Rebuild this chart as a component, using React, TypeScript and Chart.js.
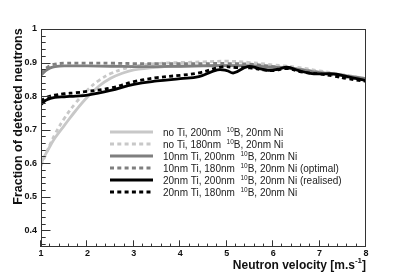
import { useEffect, useRef } from "react";
import { Chart, registerables } from "chart.js";

Chart.register(...registerables);

const FONT = "'Liberation Sans', Arial, Helvetica, sans-serif";

const seriesLabels = [
  "no Ti, 200nm  ¹⁰B, 20nm Ni",
  "no Ti, 180nm  ¹⁰B, 20nm Ni",
  "10nm Ti, 200nm  ¹⁰B, 20nm Ni",
  "10nm Ti, 180nm  ¹⁰B, 20nm Ni (optimal)",
  "20nm Ti, 200nm  ¹⁰B, 20nm Ni (realised)",
  "20nm Ti, 180nm  ¹⁰B, 20nm Ni",
];

const xNoTi = [1, 1.1, 1.2, 1.3, 1.5, 1.75, 2, 2.25, 2.5, 2.75, 3, 3.5, 4, 4.5, 5, 5.5, 6, 6.5, 7, 7.5, 8];
const yNoTi200 = [0.6, 0.627, 0.652, 0.675, 0.712, 0.757, 0.797, 0.83, 0.853, 0.868, 0.878, 0.886, 0.889, 0.891, 0.892, 0.892, 0.888, 0.882, 0.872, 0.862, 0.852];
const yNoTi180 = [0.592, 0.625, 0.657, 0.686, 0.733, 0.78, 0.818, 0.847, 0.867, 0.88, 0.889, 0.897, 0.9, 0.902, 0.904, 0.9, 0.893, 0.886, 0.875, 0.864, 0.852];

const xTi10 = [1, 1.1, 1.2, 1.3, 1.5, 2, 2.5, 3, 3.5, 4, 4.5, 5, 5.5, 6, 6.5, 7, 7.5, 8];
const yTi10_200 = [0.862, 0.876, 0.884, 0.888, 0.89, 0.89, 0.889, 0.888, 0.888, 0.889, 0.89, 0.891, 0.89, 0.886, 0.88, 0.87, 0.862, 0.852];
const yTi10_180 = [0.868, 0.882, 0.891, 0.895, 0.898, 0.898, 0.898, 0.897, 0.897, 0.897, 0.897, 0.897, 0.895, 0.888, 0.88, 0.87, 0.858, 0.848];

const xTi20_200 = [1, 1.1, 1.2, 1.3, 1.5, 1.75, 2, 2.5, 3, 3.5, 4, 4.4, 4.8, 5.0, 5.15, 5.45, 5.7, 5.9, 6.1, 6.3, 6.55, 6.8, 7.0, 7.3, 7.6, 8];
const yTi20_200 = [0.775, 0.787, 0.793, 0.796, 0.798, 0.8, 0.803, 0.817, 0.835, 0.845, 0.852, 0.858, 0.878, 0.876, 0.869, 0.888, 0.882, 0.877, 0.88, 0.886, 0.876, 0.868, 0.866, 0.866, 0.858, 0.846];

const xTi20_180 = [1, 1.1, 1.2, 1.3, 1.5, 1.75, 2, 2.5, 3, 3.5, 4, 4.4, 4.9, 5.2, 5.5, 5.8, 6.0, 6.3, 6.6, 7.0, 7.3, 7.6, 8];
const yTi20_180 = [0.785, 0.795, 0.8, 0.803, 0.807, 0.81, 0.814, 0.824, 0.843, 0.855, 0.862, 0.869, 0.887, 0.885, 0.884, 0.878, 0.876, 0.882, 0.872, 0.866, 0.86, 0.852, 0.844];

const seriesX = [xNoTi, xNoTi, xTi10, xTi10, xTi20_200, xTi20_180];
const seriesY = [yNoTi200, yNoTi180, yTi10_200, yTi10_180, yTi20_200, yTi20_180];
const seriesColors = ["#c8c8c8", "#c8c8c8", "#7f7f7f", "#7f7f7f", "#000000", "#000000"];
const seriesDashed = [false, true, false, true, false, true];

const xMin = 1;
const xMax = 8;
const yMin = 0.35;
const yMax = 1;

const xTitle = "Neutron velocity [m.s";
const xTitleSup = "-1";
const yTitle = "Fraction of detected neutrons";

const DASH = [4, 3.3];

function drawSupText(ctx: CanvasRenderingContext2D, text: string, x: number, y: number, size: number) {
  const parts = text.split("¹⁰");
  ctx.textAlign = "left";
  ctx.textBaseline = "alphabetic";
  ctx.font = `${size}px ${FONT}`;
  ctx.fillText(parts[0], x, y);
  let cx = x + ctx.measureText(parts[0]).width;
  if (parts.length > 1) {
    ctx.font = `${size * 0.65}px ${FONT}`;
    ctx.fillText("10", cx, y - size * 0.4);
    cx += ctx.measureText("10").width;
    ctx.font = `${size}px ${FONT}`;
    ctx.fillText(parts[1], cx, y);
  }
}

const framePlugin = {
  id: "rootFrame",
  afterDraw(chart: any) {
    const ctx: CanvasRenderingContext2D = chart.ctx;
    const { left, right, top, bottom } = chart.chartArea;
    const xs = chart.scales.x;
    const ys = chart.scales.y;
    ctx.save();
    ctx.strokeStyle = "#333";
    ctx.lineWidth = 1;
    ctx.setLineDash([]);
    ctx.strokeRect(left + 0.5, top + 0.5, right - left - 1, bottom - top - 1);
    // y ticks
    for (let i = 18; i <= 50; i++) {
      const v = i / 50;
      const py = Math.round(ys.getPixelForValue(v)) + 0.5;
      const len = i % 5 === 0 ? 9.5 : 4.7;
      ctx.beginPath();
      ctx.moveTo(left, py);
      ctx.lineTo(left + len, py);
      ctx.stroke();
    }
    // x ticks
    for (let i = 5; i <= 40; i++) {
      const v = i / 5;
      const px = Math.round(xs.getPixelForValue(v)) - 0.5;
      const len = i % 5 === 0 ? 6.7 : 3.4;
      ctx.beginPath();
      ctx.moveTo(px, bottom);
      ctx.lineTo(px, bottom - len);
      ctx.stroke();
    }
    // axis titles
    ctx.fillStyle = "#111";
    ctx.textBaseline = "alphabetic";
    ctx.font = `bold 8px ${FONT}`;
    const supW = ctx.measureText(xTitleSup).width;
    ctx.font = `bold 12px ${FONT}`;
    const bracketW = ctx.measureText("]").width;
    const mainW = ctx.measureText(xTitle).width;
    const endX = right;
    const startX = endX - bracketW - supW - mainW;
    ctx.textAlign = "left";
    ctx.fillText(xTitle, startX, 269);
    ctx.font = `bold 8px ${FONT}`;
    ctx.fillText(xTitleSup, startX + mainW, 263);
    ctx.font = `bold 12px ${FONT}`;
    ctx.fillText("]", startX + mainW + supW, 269);

    ctx.save();
    ctx.translate(22, 116.5);
    ctx.rotate(-Math.PI / 2);
    ctx.font = `bold 12.5px ${FONT}`;
    ctx.textAlign = "center";
    ctx.fillText(yTitle, 0, 0);
    ctx.restore();

    // legend
    const rowY = [132, 144, 156, 168, 180, 192];
    chart.data.datasets.forEach((ds: any, i: number) => {
      const y = rowY[i];
      ctx.beginPath();
      ctx.strokeStyle = ds.borderColor;
      ctx.lineWidth = ds.borderWidth;
      ctx.setLineDash(ds.borderDash || []);
      ctx.moveTo(110, y);
      ctx.lineTo(153, y);
      ctx.stroke();
      ctx.setLineDash([]);
      ctx.fillStyle = "#222";
      drawSupText(ctx, ds.label, 163, y + 3.5, 10);
    });
    ctx.restore();
  },
};

export default function App() {
  const ref = useRef<HTMLCanvasElement | null>(null);
  useEffect(() => {
    document.body.style.margin = "0";
    if (!ref.current) return;
    const datasets = seriesLabels.map((label, i) => ({
      label,
      data: seriesX[i].map((x, j) => ({ x, y: seriesY[i][j] })),
      borderColor: seriesColors[i],
      backgroundColor: seriesColors[i],
      borderWidth: 2.8,
      borderDash: seriesDashed[i] ? DASH : [],
      pointRadius: 0,
      tension: 0.4,
      fill: false,
      order: seriesLabels.length - i,
    }));
    const chart = new Chart(ref.current, {
      type: "line",
      data: { datasets },
      options: {
        animation: false,
        responsive: false,
        devicePixelRatio: 1,
        layout: { padding: { top: 29, right: 41, left: 0, bottom: 0 } },
        plugins: { legend: { display: false }, tooltip: { enabled: false } },
        scales: {
          x: {
            type: "linear",
            min: xMin,
            max: xMax,
            afterFit: (s: any) => {
              s.height = 28;
            },
            grid: { display: false, drawTicks: false },
            border: { display: false },
            ticks: {
              stepSize: 1,
              padding: 1,
              color: "#111",
              font: { family: FONT, size: 9, weight: "bold" },
              maxRotation: 0,
              callback: (v: any) => String(Math.round(Number(v))),
            },
          },
          y: {
            type: "linear",
            min: yMin,
            max: yMax,
            afterFit: (s: any) => {
              s.width = 41;
            },
            grid: { display: false, drawTicks: false },
            border: { display: false },
            ticks: {
              stepSize: 0.1,
              includeBounds: false,
              padding: 4,
              color: "#111",
              font: { family: FONT, size: 9, weight: "bold" },
              callback: (v: any) => String(+Number(v).toFixed(2)),
            },
          },
        },
      } as any,
      plugins: [framePlugin],
    });
    return () => chart.destroy();
  }, []);
  return (
    <div style={{ position: "absolute", left: 0, top: 0, width: 407, height: 275 }}>
      <canvas ref={ref} width={407} height={275} style={{ display: "block" }} />
    </div>
  );
}
